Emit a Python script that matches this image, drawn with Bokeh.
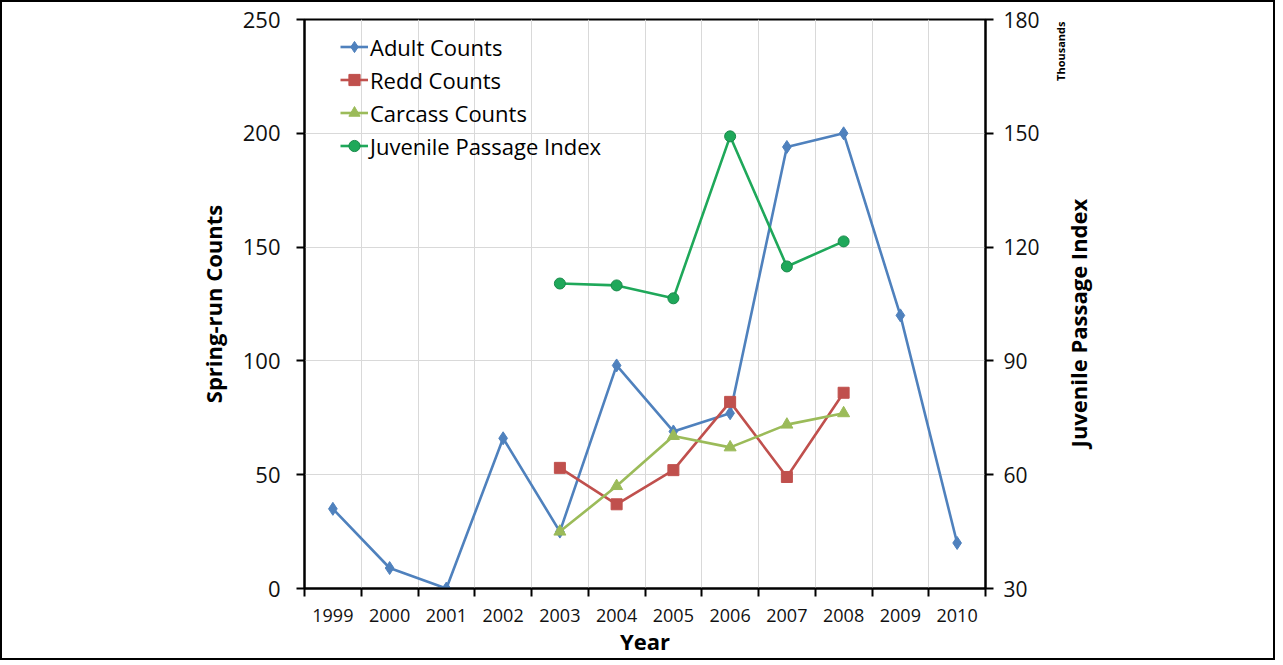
import math
from bokeh.plotting import figure
from bokeh.layouts import column
from bokeh.models import Range1d, LinearAxis, FixedTicker, Legend, LegendItem
from bokeh.embed import file_html
from bokeh.resources import INLINE

# ---- data ----
years = [1999, 2000, 2001, 2002, 2003, 2004, 2005, 2006, 2007, 2008, 2009, 2010]
adult_counts = [35, 9, 0, 66, 25, 98, 69, 77, 194, 200, 120, 20]
sub_years = [2003, 2004, 2005, 2006, 2007, 2008]
redd_counts = [53, 37, 52, 82, 49, 86]
carcass_counts = [25, 45, 67, 62, 72, 77]
juvenile_index_thousands = [110.4, 109.9, 106.5, 149.2, 114.9, 121.5]
left_ticks = [0, 50, 100, 150, 200, 250]
right_ticks = [30, 60, 90, 120, 150, 180]
year_labels = [str(y) for y in years]

FONT = "Open Sans"
C_ADULT = "#4F81BD"
C_REDD = "#C0504D"
C_CARC = "#9BBB59"
C_JUV = "#1FA85A"

boundaries = [y - 0.5 for y in years] + [years[-1] + 0.5]

p = figure(frame_width=681, frame_height=569,
           x_range=Range1d(boundaries[0], boundaries[-1]),
           y_range=Range1d(left_ticks[0], left_ticks[-1]),
           output_backend="svg", toolbar_location=None,
           min_border_left=302, min_border_right=288,
           min_border_top=17, min_border_bottom=67)
p.extra_y_ranges = {"juv": Range1d(right_ticks[0], right_ticks[-1])}
p.outline_line_color = "black"
p.outline_line_width = 2
p.background_fill_color = "white"
p.border_fill_color = "white"

# grids
p.xgrid.ticker = FixedTicker(ticks=boundaries)
p.xgrid.grid_line_color = "#D9D9D9"
p.ygrid.ticker = FixedTicker(ticks=left_ticks)
p.ygrid.grid_line_color = "#D9D9D9"

def style_axis(ax, label_size="22px"):
    ax.axis_line_color = "black"
    ax.axis_line_width = 2
    ax.major_tick_line_color = "black"
    ax.major_tick_line_width = 2
    ax.minor_tick_line_color = "black"
    ax.minor_tick_line_width = 2
    ax.major_label_text_font = FONT
    ax.major_label_text_font_size = label_size
    ax.major_label_text_color = "#111111"
    ax.axis_label_text_font = FONT
    ax.axis_label_text_font_size = "22px"
    ax.axis_label_text_font_style = "bold"
    ax.axis_label_text_color = "black"

# x axis
xa = p.xaxis[0]
style_axis(xa, "18px")
xa.ticker = FixedTicker(ticks=years, minor_ticks=boundaries)
xa.major_label_overrides = {y: s for y, s in zip(years, year_labels)}
xa.major_tick_in = 0
xa.major_tick_out = 0
xa.minor_tick_in = 0
xa.minor_tick_out = 8
xa.major_label_standoff = 12
xa.axis_label = "Year"
xa.axis_label_standoff = 1

# left axis
ya = p.yaxis[0]
style_axis(ya)
ya.ticker = FixedTicker(ticks=left_ticks)
ya.major_tick_in = 0
ya.major_tick_out = 8
ya.minor_tick_out = 0
ya.major_label_standoff = 16
ya.axis_label = "Spring-run Counts"
ya.axis_label_standoff = 12

# right axis (ticks + labels)
ra = LinearAxis(y_range_name="juv", ticker=FixedTicker(ticks=right_ticks))
style_axis(ra, "21px")
ra.major_tick_in = 0
ra.major_tick_out = 8
ra.minor_tick_out = 0
ra.major_label_standoff = 10
p.add_layout(ra, "right")

def text_axis(text, at, size, standoff):
    ax = LinearAxis(ticker=FixedTicker(ticks=[at], minor_ticks=[]))
    ax.axis_line_alpha = 0
    ax.major_tick_line_alpha = 0
    ax.minor_tick_line_alpha = 0
    ax.major_tick_in = 0
    ax.major_tick_out = 0
    ax.major_label_overrides = {at: text}
    ax.major_label_orientation = math.pi / 2
    ax.major_label_text_font = FONT
    ax.major_label_text_font_size = size
    ax.major_label_text_font_style = "bold"
    ax.major_label_text_color = "black"
    ax.major_label_standoff = standoff
    return ax

# display-unit label and right axis title, rendered as rotated text on the right side
p.add_layout(text_axis("Thousands", 223, "11px", 18), "right")
p.add_layout(text_axis("Juvenile Passage Index", 62, "22px", 0), "right")

# series
r1 = p.line(years, adult_counts, line_color=C_ADULT, line_width=2.6)
m1 = p.scatter(years, adult_counts, marker="diamond", size=13, fill_color=C_ADULT, line_color=C_ADULT)
r2 = p.line(sub_years, redd_counts, line_color=C_REDD, line_width=2.6)
m2 = p.scatter(sub_years, redd_counts, marker="square", size=11, fill_color=C_REDD, line_color=C_REDD)
r3 = p.line(sub_years, carcass_counts, line_color=C_CARC, line_width=2.6)
m3 = p.scatter(sub_years, carcass_counts, marker="triangle", size=12, fill_color=C_CARC, line_color=C_CARC)
r4 = p.line(sub_years, juvenile_index_thousands, line_color=C_JUV, line_width=2.6, y_range_name="juv")
m4 = p.scatter(sub_years, juvenile_index_thousands, marker="circle", size=11, fill_color=C_JUV,
               line_color="#188A4A", y_range_name="juv")

legend = Legend(items=[
    LegendItem(label="Adult Counts", renderers=[r1, m1]),
    LegendItem(label="Redd Counts", renderers=[r2, m2]),
    LegendItem(label="Carcass Counts", renderers=[r3, m3]),
    LegendItem(label="Juvenile Passage Index", renderers=[r4, m4]),
], location=(36, 426))
legend.padding = 0
legend.margin = 0
legend.spacing = 0
legend.label_height = 33
legend.glyph_height = 33
legend.glyph_width = 28
legend.label_standoff = 2
legend.label_text_font = FONT
legend.label_text_font_size = "22px"
legend.label_text_color = "black"
legend.background_fill_alpha = 0
legend.border_line_alpha = 0
p.add_layout(legend)

page = column(p, styles={"border": "2px solid black", "background-color": "white"})

open("out.html", "w").write(file_html(page, INLINE))
